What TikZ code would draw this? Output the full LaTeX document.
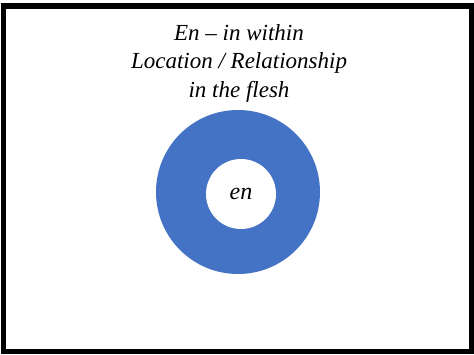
\documentclass[tikz,border=0pt]{standalone}
\usepackage{fontspec}
\setmainfont{Liberation Serif}
\definecolor{ringblue}{HTML}{4472C4}
\begin{document}
\begin{tikzpicture}[x=1pt, y=-1pt,
    titlelbl/.style={font=\fontsize{23}{28.5}\selectfont\itshape, align=center, inner sep=0pt},
    ring/.style={circle, fill=ringblue, minimum size=164pt, inner sep=0pt},
    hole/.style={circle, fill=white, minimum size=70pt, inner sep=0pt, font=\fontsize{24}{26}\selectfont\itshape}
]
\useasboundingbox (0,0) rectangle (474,354);
\fill[white] (0,0) rectangle (474,354);

%  -- frame  --
\draw[line width=5.5pt] (3.5,6) rectangle (471.5,351.5);

%  -- title  --
\node[titlelbl] (title) at (239,63) {En -- in within\\Location / Relationship\\in the flesh};

%  -- ring with centre  --
\node[ring] (ring) at (238,192) {};
\node[hole] (hole) at (241,194) {en};

\end{tikzpicture}
\end{document}
